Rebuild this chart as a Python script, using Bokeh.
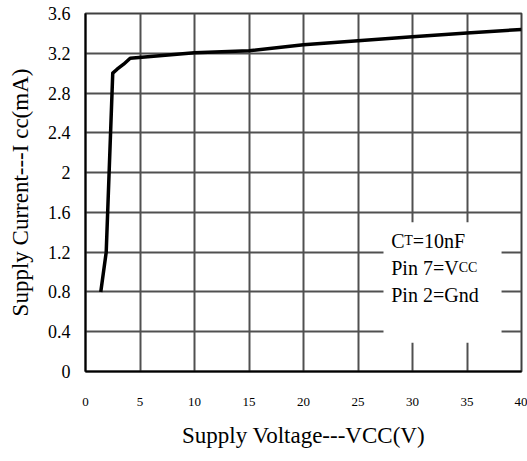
from bokeh.plotting import figure
from bokeh.models import Range1d, FixedTicker, BoxAnnotation, Label
from bokeh.embed import file_html
from bokeh.resources import INLINE

# Data
vcc = [1.4, 1.9, 2.5, 2.9, 3.5, 4.1, 10, 15, 20, 25, 30, 35, 40]
icc = [0.8, 1.2, 3.0, 3.04, 3.09, 3.15, 3.205, 3.225, 3.285, 3.325, 3.365, 3.405, 3.44]

x_ticks = [0, 5, 10, 15, 20, 25, 30, 35, 40]
y_ticks = [0, 0.4, 0.8, 1.2, 1.6, 2.0, 2.4, 2.8, 3.2, 3.6]
y_tick_labels = ["0", "0.4", "0.8", "1.2", "1.6", "2", "2.4", "2.8", "3.2", "3.6"]

X_MIN, X_MAX = 0, 40
Y_MIN, Y_MAX = 0, 3.6

FONT = "Liberation Serif"

p = figure(width=527, height=461,
           min_border_left=85, min_border_right=6, min_border_top=13, min_border_bottom=90,
           x_range=Range1d(X_MIN, X_MAX), y_range=Range1d(Y_MIN, Y_MAX),
           output_backend="svg", toolbar_location=None, tools="")

p.line(vcc, icc, line_color="black", line_width=3.5, line_join="round")

# axes
p.xaxis.ticker = FixedTicker(ticks=x_ticks)
p.yaxis.ticker = FixedTicker(ticks=y_ticks)
p.yaxis.major_label_overrides = {t: l for t, l in zip(y_ticks, y_tick_labels)}
p.xaxis.major_label_overrides = {t: str(t) for t in x_ticks}

for ax in (p.xaxis, p.yaxis):
    ax.major_tick_out = 0
    ax.major_tick_in = 0
    ax.minor_tick_out = 0
    ax.minor_tick_in = 0
    ax.axis_line_color = "black"
    ax.axis_line_width = 2
    ax.major_label_text_font = FONT
    ax.major_label_text_color = "black"
    ax.axis_label_text_font = FONT
    ax.axis_label_text_font_style = "normal"
    ax.axis_label_text_color = "black"
    ax.axis_label_text_font_size = "23px"

p.yaxis.major_label_text_font_size = "18px"
p.xaxis.major_label_text_font_size = "13px"
p.yaxis.major_label_standoff = 15
p.xaxis.major_label_standoff = 26
p.yaxis.axis_label_standoff = 12
p.xaxis.axis_label_standoff = 14
p.xaxis.axis_label = "Supply Voltage---VCC(V)"
p.yaxis.axis_label = "Supply Current---I cc(mA)"

# grid
p.grid.grid_line_color = "#505050"
p.grid.grid_line_width = 2
p.grid.grid_line_alpha = 1.0

p.outline_line_color = "#404040"
p.outline_line_width = 2
p.background_fill_color = "white"
p.border_fill_color = "white"

# legend box (white, no border)
p.add_layout(BoxAnnotation(left=27.34, right=38.17, bottom=0.29, top=1.5,
                           fill_color="white", fill_alpha=1, line_alpha=0))

# legend text, with small subscripts
big = "20px"
small = "14px"
lx = 28.05
def lab(x, y, t, size, xoff=0):
    p.add_layout(Label(x=x, y=y, text=t, text_font=FONT, text_font_size=size,
                       text_color="black", text_baseline="alphabetic",
                       x_offset=xoff))

y1, y2, y3 = 1.315, 1.045, 0.765
lab(lx, y1, "C", big)
lab(lx, y1, "T", small, 13)
lab(lx, y1, "=10nF", big, 21.5)
lab(lx, y2, "Pin 7=V", big)
lab(lx, y2, "CC", small, 67.5)
lab(lx, y3, "Pin 2=Gnd", big)

open("out.html", "w").write(file_html(p, INLINE))
